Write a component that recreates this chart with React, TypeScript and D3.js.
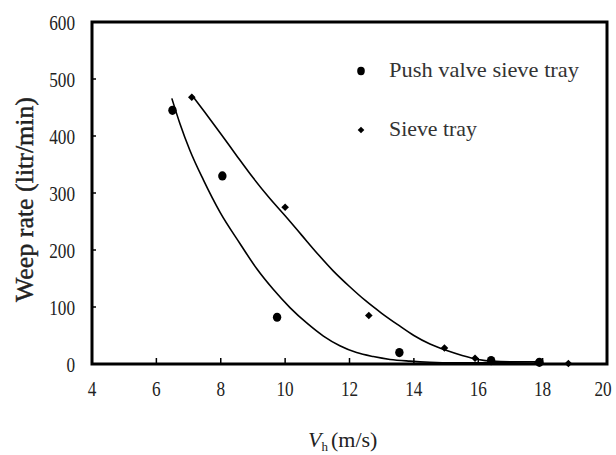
import * as d3 from "d3";

const xTicks = [4, 6, 8, 10, 12, 14, 16, 18, 20];
const yTicks = [0, 100, 200, 300, 400, 500, 600];

// measured points
const pushX = [6.5, 8.05, 9.75, 13.55, 16.4, 17.9];
const pushY = [445, 330, 82, 20, 6, 3];
const sieveX = [7.1, 10, 12.6, 14.95, 15.9, 17.85, 18.8];
const sieveY = [468, 275, 85, 28, 10, 3, 1];

// trend lines
const pushFitX = [6.48, 6.73, 7.04, 7.46, 7.98, 8.6, 9.12, 9.63, 10.15, 10.67, 11.19, 11.7, 12.22, 12.74, 13.26, 13.88, 14.5, 15.2, 16, 17, 17.9];
const pushFitY = [466, 422, 375, 323, 266, 211, 167, 131, 99, 72, 49, 32, 20, 13, 8, 5, 3, 2, 2, 3, 4];
const sieveFitX = [7.1, 7.5, 8, 8.5, 9, 9.5, 10, 10.5, 11, 11.5, 12, 12.5, 13, 13.5, 14, 14.5, 15, 15.5, 16, 16.4, 17, 17.9];
const sieveFitY = [472, 442, 404, 365, 327, 292, 260, 227, 194, 163, 136, 111, 89, 69, 50, 35, 24, 15, 8, 5, 4, 4];

const legendLabels = ["Push valve sieve tray", "Sieve tray"];

const W = 616;
const H = 455;
const left = 92, right = 607, top = 22, bottom = 364;

const diamond = (r: number) => `M0,${-r}L${r},0L0,${r}L${-r},0Z`;
const serifFont = "Liberation Serif, DejaVu Serif, serif";

export default function App() {
  const x = d3.scaleLinear().domain([4, 20]).range([left, right]);
  const y = d3.scaleLinear().domain([0, 600]).range([bottom, top]);

  const line = d3.line<number>().curve(d3.curveMonotoneX);

  const pushPath = line
    .x((_, i) => x(pushFitX[i]))
    .y((_, i) => y(pushFitY[i]))(pushFitX);
  const sievePath = line
    .x((_, i) => x(sieveFitX[i]))
    .y((_, i) => y(sieveFitY[i]))(sieveFitX);

  return (
    <svg
      width={W}
      height={H}
      fontFamily={serifFont}
      style={{ position: "absolute", left: 0, top: 0, background: "#fff" }}
    >
      {/* ticks */}
      {xTicks.map((t) => (
        <g key={"x" + t}>
          <line x1={x(t)} x2={x(t)} y1={bottom} y2={bottom - 6} stroke="#000" strokeWidth={1.5} />
          <text
            x={Math.min(x(t), 603)}
            y={396}
            textAnchor="middle"
            fontSize={22}
            fill="#222"
            textLength={String(t).length * 8.6}
            lengthAdjust="spacingAndGlyphs"
          >
            {t}
          </text>
        </g>
      ))}
      {yTicks.map((t) => (
        <g key={"y" + t}>
          <line x1={left} x2={left + 4} y1={y(t)} y2={y(t)} stroke="#000" strokeWidth={1.5} />
          <text
            x={75 - String(t).length * 8.6}
            y={y(t) + 7.5}
            fontSize={22}
            fill="#222"
            textLength={String(t).length * 8.6}
            lengthAdjust="spacingAndGlyphs"
          >
            {t}
          </text>
        </g>
      ))}

      {/* frame */}
      <rect
        x={left}
        y={top}
        width={right - left}
        height={bottom - top}
        fill="none"
        stroke="#000"
        strokeWidth={3}
      />

      {/* fitted curves */}
      <path d={pushPath || ""} fill="none" stroke="#000" strokeWidth={1.6} />
      <path d={sievePath || ""} fill="none" stroke="#000" strokeWidth={1.6} />

      {/* points */}
      {pushX.map((v, i) => (
        <ellipse key={"p" + i} cx={x(v)} cy={y(pushY[i])} rx={4.2} ry={4.6} fill="#000" />
      ))}
      {sieveX.map((v, i) => (
        <path
          key={"s" + i}
          d={diamond(3.8)}
          transform={`translate(${x(v)},${y(sieveY[i])})`}
          fill="#000"
        />
      ))}

      {/* legend */}
      <ellipse cx={361} cy={71} rx={3.8} ry={4.2} fill="#000" />
      <text x={389} y={77} fontSize={21} fill="#333" textLength={190} lengthAdjust="spacingAndGlyphs">
        {legendLabels[0]}
      </text>
      <path d={diamond(3.3)} transform="translate(361,130)" fill="#000" />
      <text x={389} y={136} fontSize={21} fill="#333" textLength={88} lengthAdjust="spacingAndGlyphs">
        {legendLabels[1]}
      </text>

      {/* axis titles */}
      <text
        transform={`translate(33,${(97 + 302) / 2}) rotate(-90)`}
        textAnchor="middle"
        fontSize={25}
        fill="#222"
        stroke="#222"
        strokeWidth={0.4}
        textLength={205}
        lengthAdjust="spacingAndGlyphs"
      >
        Weep rate (litr/min)
      </text>
      <text x={308} y={447} fontSize={22} fill="#222">
        <tspan fontStyle="italic">V</tspan>
        <tspan fontSize={13} dy={4}>h</tspan>
        <tspan dy={-4} dx={3}>(m/s)</tspan>
      </text>
    </svg>
  );
}
